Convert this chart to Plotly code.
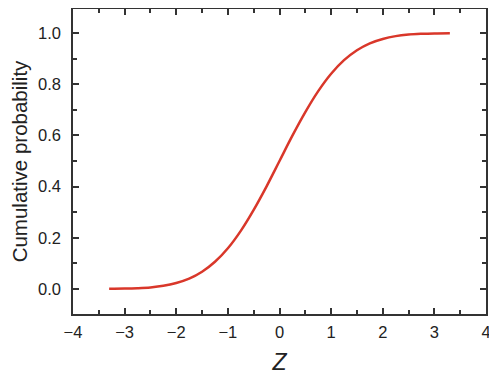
import plotly.graph_objects as go

z_values = [-3.3, -3.0, -2.75, -2.5, -2.25, -2.0, -1.75, -1.5, -1.25, -1.0, -0.75, -0.5, -0.25,
            0.0, 0.25, 0.5, 0.75, 1.0, 1.25, 1.5, 1.75, 2.0, 2.25, 2.5, 2.75, 3.0, 3.3]
cum_prob = [0.0005, 0.0013, 0.003, 0.006, 0.012, 0.023, 0.040, 0.067, 0.106, 0.159, 0.227, 0.309, 0.401,
            0.5, 0.599, 0.691, 0.773, 0.841, 0.894, 0.933, 0.960, 0.977, 0.988, 0.994, 0.997, 0.9987, 0.9995]

x_ticks = [-4, -3, -2, -1, 0, 1, 2, 3, 4]
x_ticklabels = ["\u22124", "\u22123", "\u22122", "\u22121", "0", "1", "2", "3", "4"]
y_ticks = [0.0, 0.2, 0.4, 0.6, 0.8, 1.0]
y_ticklabels = ["0.0", "0.2", "0.4", "0.6", "0.8", "1.0"]

FONT = "Liberation Sans, Arial, sans-serif"

fig = go.Figure()
fig.add_trace(go.Scatter(x=z_values, y=cum_prob, mode="lines",
                         line=dict(color="#d9372a", width=2.5, shape="spline"),
                         showlegend=False, hoverinfo="skip"))

axis_common = dict(
    showgrid=False, zeroline=False, showline=True, linecolor="#333333", linewidth=1.5,
    mirror="ticks", ticks="inside", ticklen=6, tickwidth=1.5, tickcolor="#333333",
    tickfont=dict(family=FONT, size=16.5, color="#222222"), automargin=False,
)

# page body has an 8px margin; figure sized to fit the 497x375 window
fig.update_layout(
    width=489, height=367,
    margin=dict(l=65, r=11, t=1, b=61),
    paper_bgcolor="white", plot_bgcolor="white",
    xaxis=dict(range=[-4, 4], tickmode="array", tickvals=x_ticks, ticktext=x_ticklabels,
               ticklabelstandoff=2,
               minor=dict(ticks="inside", ticklen=4, tickwidth=1.5, tickcolor="#333333", dtick=0.5, showgrid=False),
               title=dict(text="<i>Z</i>", font=dict(family=FONT, size=23, color="#222222"),
                          standoff=14),
               **axis_common),
    yaxis=dict(range=[-0.098, 1.094], tickmode="array", tickvals=y_ticks, ticktext=y_ticklabels,
               ticklabelstandoff=7,
               minor=dict(ticks="inside", ticklen=4, tickwidth=1.5, tickcolor="#333333", dtick=0.1, tick0=0, showgrid=False),
               title=dict(text="Cumulative probability", font=dict(family=FONT, size=20.5, color="#222222"),
                          standoff=9),
               **axis_common),
)

fig.write_html("out.html")
